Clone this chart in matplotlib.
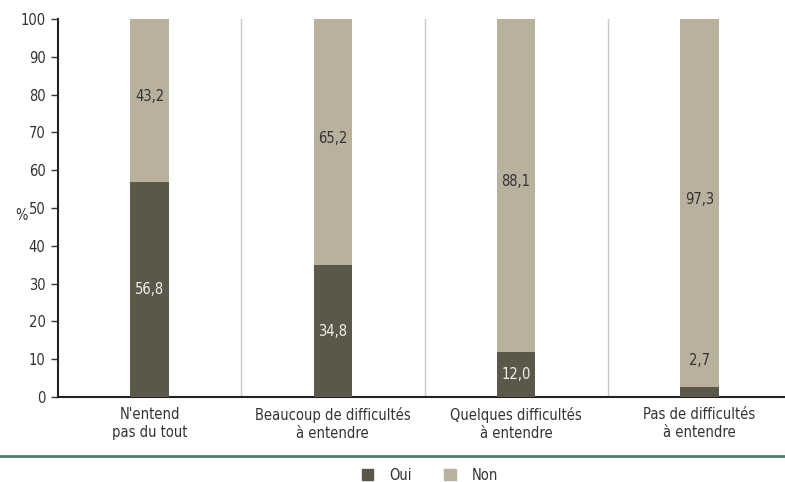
import matplotlib
matplotlib.use("Agg")
import matplotlib.pyplot as plt
from matplotlib.lines import Line2D
from matplotlib.patches import Patch
from matplotlib.font_manager import FontProperties

categories = ["N'entend\npas du tout", "Beaucoup de difficultés\nà entendre",
              "Quelques difficultés\nà entendre", "Pas de difficultés\nà entendre"]
oui = [56.8, 34.8, 12.0, 2.7]
non = [43.2, 65.2, 88.1, 97.3]
yticks = [0, 10, 20, 30, 40, 50, 60, 70, 80, 90, 100]

C_OUI = "#5a5849"
C_NON = "#bab09e"
TXT = "#333333"

plt.rcParams['font.family'] = ['DejaVu Sans']
plt.rcParams['font.stretch'] = 'condensed'
FS = 10.5

fig = plt.figure(figsize=(7.85, 4.82), dpi=100)
W, H = 785, 482
ax = fig.add_axes([58 / W, 1 - 397 / H, (791 - 58) / W, (397 - 19) / H])

x = list(range(len(categories)))
bw = 0.21
ax.bar(x, oui, width=bw, color=C_OUI, zorder=3)
ax.bar(x, non, width=bw, bottom=oui, color=C_NON, zorder=3)

for i in x:
    if oui[i] >= 8:
        ax.text(i, oui[i] / 2, f"{oui[i]:.1f}".replace('.', ','), ha='center', va='center',
                color='#f0f0ea', fontsize=FS, fontstretch='condensed', zorder=4)
    else:
        ax.text(i, oui[i] + 7, f"{oui[i]:.1f}".replace('.', ','), ha='center', va='center',
                color=TXT, fontsize=FS, fontstretch='condensed', zorder=4)
    ax.text(i, oui[i] + non[i] / 2 + 1, f"{non[i]:.1f}".replace('.', ','), ha='center', va='center',
            color=TXT, fontsize=FS, fontstretch='condensed', zorder=4)

for s in [0.5, 1.5, 2.5]:
    ax.plot([s, s], [0, 100], color='#c8c8c8', lw=1, zorder=1)

ax.set_xlim(-0.5, 3.5)
ax.set_ylim(0, 100)
ax.set_yticks(yticks)
ax.set_yticklabels([str(t) for t in yticks], fontsize=FS, color=TXT)
ax.set_xticks(x)
ax.set_xticklabels(categories, fontsize=FS, color=TXT, linespacing=1.25)
ax.tick_params(axis='x', length=0, pad=7)
ax.tick_params(axis='y', length=5, width=1, color='#333333', pad=4)
for sp in ['top', 'right']:
    ax.spines[sp].set_visible(False)
ax.spines['left'].set_color('#222222')
ax.spines['left'].set_linewidth(1.5)
ax.spines['bottom'].set_color('#222222')
ax.spines['bottom'].set_linewidth(1.5)

fig.text(15 / W, 1 - 216 / H, "%", ha='left', va='center', fontsize=FS, color=TXT)

fig.add_artist(Line2D([0, 1], [1 - 456 / H, 1 - 456 / H], color='#4d7b6f', lw=2))

handles = [Patch(color=C_OUI, label='Oui'), Patch(color=C_NON, label='Non')]
leg = fig.legend(handles=handles, loc='center', bbox_to_anchor=(430 / W, 1 - 475 / H), ncol=2,
                 frameon=False, prop=FontProperties(family='DejaVu Sans', stretch='condensed', size=FS),
                 handlelength=0.8, handleheight=0.8,
                 columnspacing=2.2, handletextpad=1.1)
for t in leg.get_texts():
    t.set_color(TXT)

fig.savefig("out.png", dpi=100)
